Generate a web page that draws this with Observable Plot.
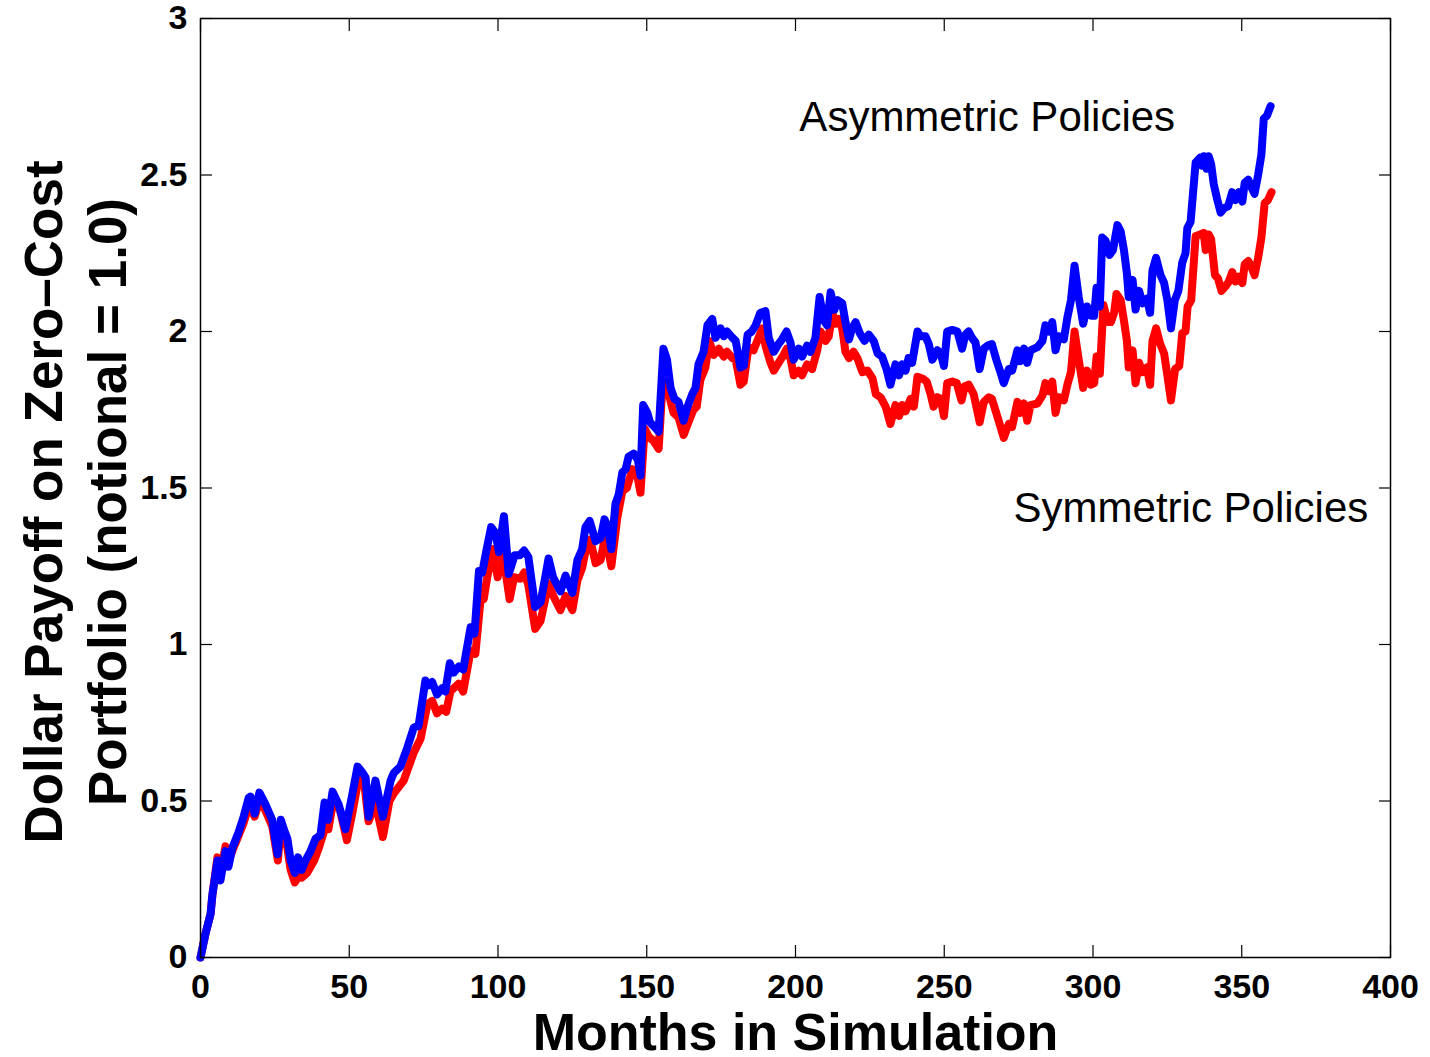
<!DOCTYPE html>
<html>
<head>
<meta charset="utf-8">
<script src="https://cdn.jsdelivr.net/npm/d3@7"></script>
<script src="https://cdn.jsdelivr.net/npm/@observablehq/plot@0.6"></script>
<style>
  html, body { margin: 0; padding: 0; background: white; }
</style>
</head>
<body>
<div id="chart"></div>
<script>
// Asymmetric policies (blue)
const asymMonths = [0,1.7,3.4,4,5.7,6.7,8.4,9.4,10.7,12.8,14.5,16.2,16.8,18.2,19.8,21.8,24.1,25.9,27,28,29.2,30.3,31.7,32.8,34,35.3,37,38.7,40.3,41.7,42.9,44.4,46.4,48.7,51,52.8,54.5,55.5,56.5,58.8,61.3,63.9,65,67.2,69.5,71.7,73.3,75.6,76.7,77.9,79.5,81.2,82.3,83.8,85.1,86.8,88.3,90.8,92.1,93.6,94.7,96.1,97.7,99.2,100.3,102,103.6,105.6,107.3,108.8,110.2,112.5,114.3,115.7,117,118.5,121,122.7,125,126.7,128.3,129.4,130.8,132.8,134.5,135.8,136.9,138.1,139.5,140.6,141.8,142.9,143.9,145.6,147,147.9,148.8,150.2,151.1,152.6,154,155.6,156.8,158,159.3,160.7,162.4,163.7,165.3,166.4,167.4,169.1,170.4,172,173.1,174.8,175.9,177,178.8,179.9,181.5,182.6,183.9,185.3,186.6,188.2,189.9,191,192.7,194.3,195.5,197,198.3,199.4,201.1,202.2,203.9,205,206.7,208.1,209.5,210.6,211.8,213.1,214.2,215.7,216.8,218,219,220.2,221.6,223.2,224.6,226.3,227.6,229.1,230.6,231.9,233.6,234.8,235.9,237,238,239.2,241,242,243.7,244.8,246,247.7,248.8,249.9,251,252.7,254.4,256,257.1,258.2,259.3,260.5,261.9,263.3,264.6,266,267.5,268.9,270,271.7,272.8,274.6,275.6,276.8,277.9,279,281.3,283,284,285.2,286.3,287.4,288.5,290.2,291.4,292.6,293.8,295.2,296.7,298,299.3,300.4,301.2,302.3,303.1,304.2,305.6,306.7,308.2,309.3,310.4,311.4,312,313.3,314.3,315.5,316.6,318.1,319.2,320,321.2,322.7,323.9,325,326.2,327.5,328.7,330,331.1,331.7,332.8,334.5,336,336.7,337.3,338.2,338.9,339.7,340.6,341.8,342.9,344.2,345.4,346.8,347.9,349,350.2,351,352.2,353.3,354.3,355.5,356.6,357.4,358.5,359.7];
const asymValues = [0,0.077,0.14,0.2,0.31,0.246,0.34,0.29,0.35,0.40,0.45,0.51,0.514,0.46,0.527,0.49,0.44,0.33,0.44,0.41,0.38,0.31,0.27,0.32,0.28,0.31,0.34,0.38,0.39,0.495,0.44,0.53,0.49,0.41,0.52,0.61,0.59,0.575,0.45,0.565,0.45,0.565,0.59,0.61,0.67,0.735,0.74,0.885,0.87,0.88,0.84,0.86,0.85,0.94,0.91,0.93,0.92,1.055,1.035,1.235,1.23,1.30,1.375,1.355,1.295,1.41,1.225,1.285,1.285,1.30,1.28,1.12,1.135,1.205,1.275,1.215,1.17,1.22,1.165,1.27,1.305,1.375,1.395,1.33,1.34,1.40,1.375,1.305,1.45,1.48,1.55,1.56,1.60,1.61,1.59,1.54,1.765,1.74,1.71,1.695,1.68,1.945,1.91,1.82,1.785,1.775,1.715,1.76,1.80,1.82,1.895,1.935,2.02,2.04,1.98,2.01,1.985,2.0,1.98,1.97,1.885,1.89,1.99,2.0,2.02,2.06,2.065,1.98,1.935,1.96,1.975,2.0,1.965,1.91,1.945,1.92,1.955,1.935,1.98,2.11,2.035,2.02,2.125,2.07,2.10,2.09,2.03,1.975,2.01,2.03,1.995,1.97,1.99,1.97,1.93,1.92,1.88,1.83,1.895,1.86,1.895,1.875,1.915,1.90,2.0,1.985,1.985,1.96,1.91,1.94,1.93,1.89,2.0,2.005,2.0,1.945,1.99,2.0,1.98,1.965,1.88,1.945,1.955,1.96,1.91,1.87,1.835,1.88,1.875,1.94,1.905,1.945,1.90,1.94,1.95,1.97,2.02,2.0,2.03,1.94,1.985,1.975,2.045,2.10,2.21,2.11,2.025,2.08,2.05,2.05,2.14,2.08,2.30,2.29,2.245,2.26,2.34,2.32,2.26,2.185,2.11,2.165,2.07,2.13,2.09,2.105,2.06,2.195,2.235,2.18,2.155,2.10,2.01,2.10,2.13,2.22,2.25,2.33,2.35,2.54,2.555,2.53,2.56,2.52,2.56,2.535,2.47,2.42,2.38,2.395,2.40,2.445,2.42,2.445,2.415,2.475,2.485,2.46,2.44,2.50,2.565,2.68,2.69,2.72];

// Symmetric policies (red)
const symMonths = [0,1.7,3.4,4,5.7,6.7,8.4,9.9,11.3,12.8,14.5,16.5,18.2,20,21.8,24.1,26,27,28,29.2,30.3,31.7,33,34,35.8,38.2,39.8,41.9,43,44.8,46.9,49.2,51,53.3,55,56.5,58.8,61.3,63.5,65,68.3,71.7,74,76.3,77.9,79.5,81.2,82.6,84,86.8,88.3,90.8,92.4,94.1,95.2,96.4,98.1,99.9,101.5,103.9,105.4,107.5,108.8,110.2,112.5,114.3,117,118.6,121,122.7,125,126.7,128.3,130,131,132.8,134.5,135.8,136.9,138.1,140.1,141.8,143.3,145.2,146.6,147.9,149.3,150.6,152.3,154,155.6,157.4,159,160.7,162.4,164,165.7,166.8,168,169.7,171,172.5,174.2,175.9,177,178.8,179.9,181.5,182.6,184.2,185.9,187.6,188.8,189.9,191.6,192.7,194.3,196,197.1,198.4,199.4,201.1,202.2,203.9,205.6,207.3,208.4,210.1,211.2,212.4,213.4,214.6,215.7,216.8,218,219.5,220.8,222.5,224.2,225.9,227,228.6,230.3,231.9,233.6,234.8,235.9,237,238.7,239.8,241,242.7,244.1,245.4,246.4,247.7,248.8,249.9,251,252.7,254.2,255.8,256.9,258.2,259.9,261.9,263.3,265,266,267.8,268.9,270,271.7,272.8,274.6,275.6,276.8,277.9,279,281.3,283,284,285.2,286.3,287.4,288.5,290.2,291.4,292.6,293.8,295.2,296.7,298,299.3,300.4,301.2,302.3,303.5,305,306,307.1,307.9,309.3,310.4,311.4,312,313.3,314.3,315.5,316.6,318.1,319.2,320,321.2,322.6,323.9,325,326.2,327.6,329,330,331.1,331.8,333,334.5,336,337.2,337.9,338.9,339.7,341,342,343.2,344.6,345.7,346.8,347.9,349,350.2,351,352.2,353.3,354.3,355.5,356.6,357.7,358.8,360];
const symValues = [0,0.077,0.14,0.2,0.32,0.27,0.355,0.32,0.355,0.39,0.43,0.49,0.45,0.507,0.47,0.42,0.31,0.42,0.39,0.35,0.28,0.24,0.26,0.255,0.27,0.31,0.35,0.415,0.41,0.51,0.47,0.375,0.46,0.58,0.56,0.435,0.495,0.385,0.50,0.525,0.565,0.655,0.70,0.81,0.82,0.78,0.795,0.785,0.85,0.875,0.85,0.98,0.97,1.14,1.145,1.215,1.305,1.215,1.30,1.145,1.215,1.21,1.23,1.19,1.05,1.075,1.195,1.155,1.11,1.155,1.11,1.205,1.245,1.325,1.335,1.26,1.27,1.335,1.31,1.25,1.405,1.49,1.50,1.56,1.55,1.485,1.69,1.665,1.65,1.625,1.875,1.80,1.74,1.725,1.67,1.71,1.75,1.76,1.845,1.885,1.97,1.925,1.945,1.92,1.935,1.915,1.91,1.83,1.84,1.95,1.94,1.98,2.01,1.955,1.90,1.875,1.90,1.925,1.945,1.91,1.86,1.875,1.86,1.895,1.88,1.94,2.0,1.97,1.985,2.06,2.025,2.04,2.01,1.935,1.915,1.935,1.915,1.87,1.875,1.85,1.80,1.79,1.76,1.705,1.765,1.73,1.765,1.745,1.785,1.76,1.855,1.85,1.84,1.80,1.76,1.79,1.785,1.73,1.835,1.84,1.835,1.78,1.825,1.83,1.80,1.71,1.775,1.79,1.785,1.73,1.695,1.66,1.705,1.695,1.775,1.74,1.77,1.715,1.765,1.77,1.795,1.835,1.81,1.84,1.74,1.79,1.78,1.83,1.87,2.0,1.91,1.82,1.875,1.83,1.835,1.92,1.865,2.085,2.03,2.03,2.06,2.12,2.10,2.035,1.97,1.885,1.94,1.835,1.90,1.87,1.885,1.83,1.97,2.01,1.96,1.93,1.86,1.78,1.88,1.89,1.995,2.0,2.08,2.10,2.305,2.31,2.315,2.26,2.31,2.295,2.18,2.17,2.13,2.145,2.16,2.19,2.16,2.175,2.155,2.215,2.225,2.205,2.18,2.235,2.30,2.41,2.42,2.445];

const xTicks = [0, 50, 100, 150, 200, 250, 300, 350, 400];
const yTicks = [0, 0.5, 1, 1.5, 2, 2.5, 3];
const yTickLabels = ["0", "0.5", "1", "1.5", "2", "2.5", "3"];

const xTitle = "Months in Simulation";
const yTitle = "Dollar Payoff on Zero–Cost\nPortfolio (notional = 1.0)";

const annTexts = ["Asymmetric Policies", "Symmetric Policies"];
const annX = [201.3, 273.3];
const annY = [2.684, 1.434];

const asym = asymMonths.map((m, i) => ({m, v: asymValues[i]}));
const sym = symMonths.map((m, i) => ({m, v: symValues[i]}));
const ann = annTexts.map((t, i) => ({t, x: annX[i], y: annY[i]}));

const fmtY = d => yTickLabels[yTicks.indexOf(d)];

const chart = Plot.plot({
  width: 1430,
  height: 1057,
  marginLeft: 200,
  marginRight: 40,
  marginTop: 18,
  marginBottom: 100,
  style: {fontFamily: "'Liberation Sans', Arial, Helvetica, sans-serif", background: "white", color: "black", overflow: "visible"},
  x: {domain: [0, 400]},
  y: {domain: [0, 3]},
  marks: [
    Plot.line(sym, {x: "m", y: "v", stroke: "#ff0000", strokeWidth: 8, strokeLinejoin: "round", strokeLinecap: "round"}),
    Plot.line(asym, {x: "m", y: "v", stroke: "#0000ff", strokeWidth: 8, strokeLinejoin: "round", strokeLinecap: "round"}),
    Plot.frame({stroke: "black", strokeWidth: 1.5}),
    Plot.axisX(xTicks, {anchor: "bottom", tickSize: -12, tickPadding: 28, fontSize: 34, fontWeight: "bold", label: null, tickFormat: d => String(d), strokeWidth: 1.2}),
    Plot.axisX(xTicks, {anchor: "top", tickSize: -12, label: null, tickFormat: () => "", strokeWidth: 1.2}),
    Plot.axisY(yTicks, {anchor: "left", tickSize: -12, tickPadding: 25, fontSize: 34, fontWeight: "bold", label: null, tickFormat: fmtY, strokeWidth: 1.2}),
    Plot.axisY(yTicks, {anchor: "right", tickSize: -12, label: null, tickFormat: () => "", strokeWidth: 1.2}),
    Plot.text([xTitle], {frameAnchor: "bottom", lineAnchor: "middle", dy: 76, fontSize: 52, fontWeight: "bold", fill: "black"}),
    Plot.text([yTitle], {frameAnchor: "left", textAnchor: "middle", rotate: -90, dx: -127, dy: 14, fontSize: 53, fontWeight: "bold", lineHeight: 1.2, fill: "black"}),
    Plot.text(ann, {x: "x", y: "y", text: "t", textAnchor: "start", fontSize: 42, fill: "black"})
  ]
});
document.getElementById("chart").appendChild(chart);
</script>
</body>
</html>
